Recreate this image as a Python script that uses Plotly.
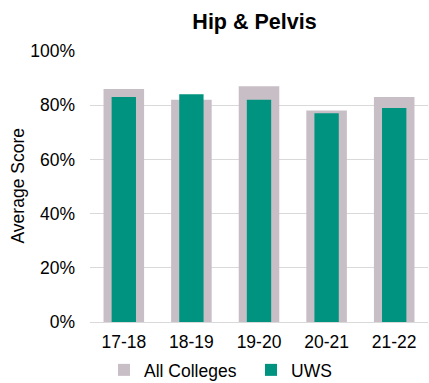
import plotly.graph_objects as go

years = ["17-18", "18-19", "19-20", "20-21", "21-22"]
all_colleges = [86, 82, 87, 78, 83]
uws = [83, 84, 82, 77, 79]

FONT = "Liberation Sans, Arial, sans-serif"
FS = 17.5

fig = go.Figure()
fig.add_trace(go.Bar(
    x=years, y=all_colleges, name="All Colleges",
    marker=dict(color="#C7BFC5", line=dict(width=0)), width=0.6,
))
fig.add_trace(go.Bar(
    x=years, y=uws, name="UWS",
    marker=dict(color="#00937F", line=dict(width=0)), width=0.36,
))

fig.update_layout(
    width=429, height=383,
    barmode="overlay",
    paper_bgcolor="white", plot_bgcolor="white",
    margin=dict(l=90, r=1, t=51, b=61),
    font=dict(family=FONT, color="#000000", size=FS),
    title=dict(text="<b>Hip & Pelvis</b>", x=254.5 / 429, xanchor="center",
               y=1 - 21 / 383, yanchor="middle", font=dict(size=21.5, family=FONT)),
    xaxis=dict(showgrid=False, ticks="", showline=False, automargin=False,
               tickfont=dict(size=FS), ticklabelstandoff=7),
    yaxis=dict(range=[0, 100], dtick=20, ticksuffix="%", automargin=False,
               gridcolor="#D9D9D9", gridwidth=1, zeroline=True,
               zerolinecolor="#D9D9D9", zerolinewidth=1,
               ticks="", tickfont=dict(size=FS), ticklabelstandoff=14),
    legend=dict(orientation="h", xref="container", x=104 / 429, xanchor="left",
                yref="container", y=13 / 383, yanchor="middle",
                font=dict(size=FS), itemwidth=30, entrywidth=102,
                traceorder="normal", bgcolor="rgba(0,0,0,0)"),
    showlegend=True,
)

# Vertical axis title
fig.add_annotation(
    text="Average Score", textangle=-90, showarrow=False,
    xref="paper", yref="paper", x=(17 - 90) / 338, y=0.5,
    xanchor="center", yanchor="middle", font=dict(size=FS),
)

fig.write_html("out.html")
